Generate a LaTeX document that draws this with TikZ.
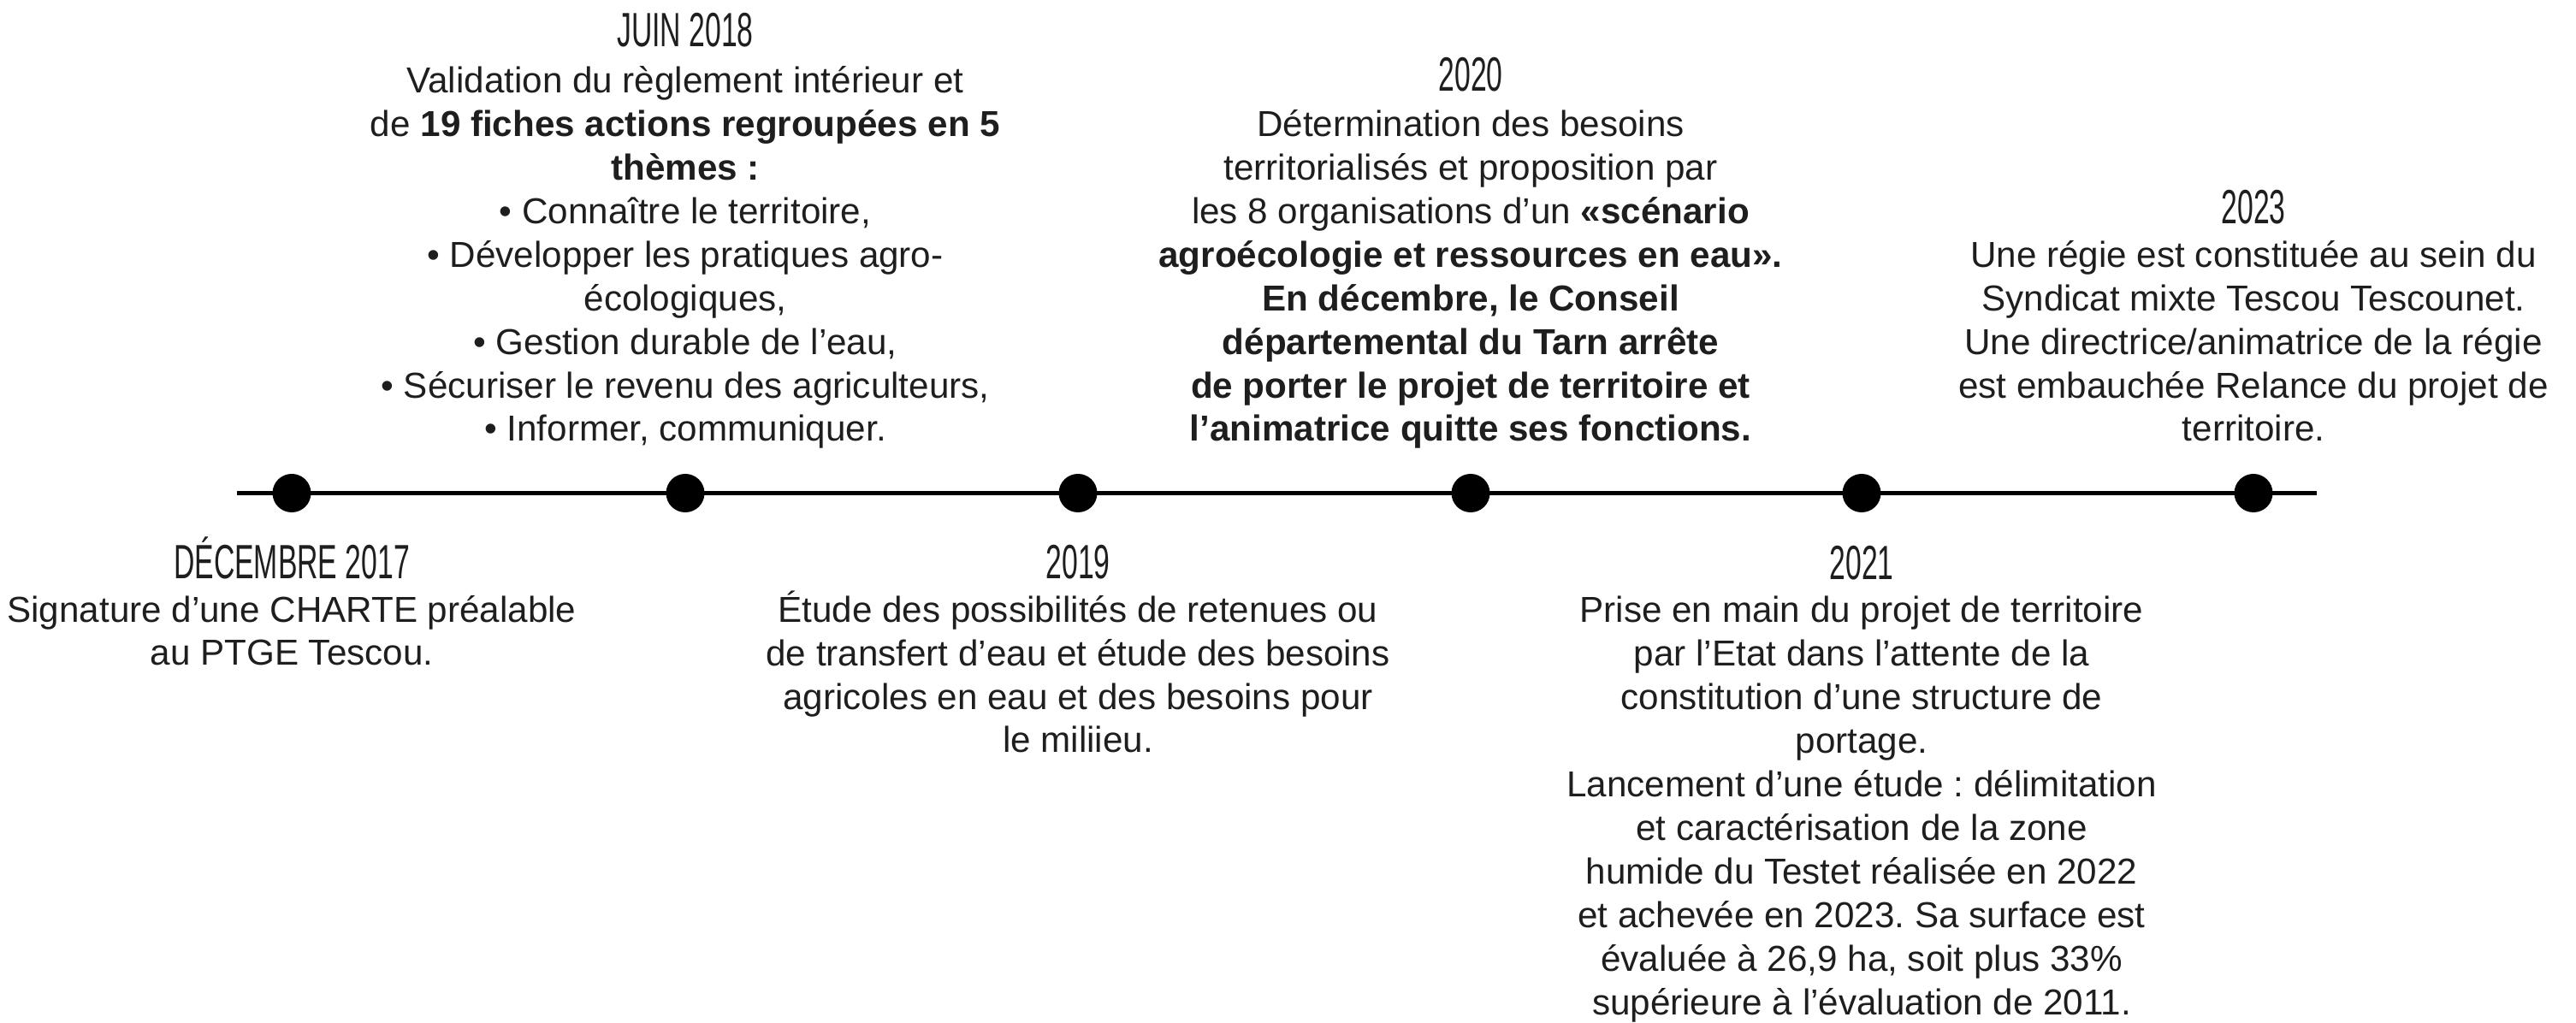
\documentclass[tikz,border=0pt]{standalone}
\usepackage{fontspec}
\setmainfont{Liberation Sans}
\newfontfamily\yearfont[FakeStretch=0.6]{Liberation Sans}
\usepackage{tikz}
\definecolor{tink}{HTML}{1E1E1E}
\frenchspacing

\begin{document}
\begin{tikzpicture}[
  evdot/.style={circle, fill=black, inner sep=0pt, minimum size=4.5mm},
  evyear/.style={font=\yearfont\fontsize{16pt}{16pt}\selectfont, text=tink, inner sep=0pt, anchor=base},
  evtext/.style={font=\fontsize{12pt}{14.5pt}\selectfont, text=tink, align=center, inner sep=0pt, anchor=base}]
 \useasboundingbox (0,0) rectangle (30.11,-11.96);
 % the time axis
 \coordinate (tstart) at (2.77,-5.765);
 \coordinate (tend) at (27.08,-5.765);
 \draw[line width=1.45pt] (tstart) -- (tend);
 \foreach \i/\x in {1/3.41,2/8.01,3/12.60,4/17.19,5/21.76,6/26.34}
   \node[evdot] (d\i) at (\x,-5.765) {};
 % above the axis (base = last line)
 \node[evyear] (y2018) at (8.01,-0.55) {JUIN 2018};
 \node[evtext] (t2018) at (8.01,-5.16) {Validation du règlement intérieur et\\
  de \textbf{19 fiches actions regroupées en 5}\\
  \textbf{thèmes :}\\
  • Connaître le territoire,\\
  • Développer les pratiques agro-\\
  écologiques,\\
  • Gestion durable de l’eau,\\
  • Sécuriser le revenu des agriculteurs,\\
  • Informer, communiquer.};
 \node[evyear] (y2020) at (17.19,-1.07) {2020};
 \node[evtext] (t2020) at (17.19,-5.16) {Détermination des besoins\\
  territorialisés et proposition par\\
  les 8 organisations d’un \textbf{«scénario}\\
  \textbf{agroécologie et ressources en eau».}\\
  \textbf{En décembre, le Conseil}\\
  \textbf{départemental du Tarn arrête}\\
  \textbf{de porter le projet de territoire et}\\
  \textbf{l'animatrice quitte ses fonctions.}};
 \node[evyear] (y2023) at (26.34,-2.62) {2023};
 \node[evtext] (t2023) at (26.34,-5.16) {Une régie est constituée au sein du\\
  Syndicat mixte Tescou Tescounet.\\
  Une directrice/animatrice de la régie\\
  est embauchée Relance du projet de\\
  territoire.};
 % below the axis
 \node[evyear] (y2017) at (3.41,-6.77) {DÉCEMBRE 2017};
 \node[evtext] (t2017) at (3.41,-7.78) {Signature d’une CHARTE préalable\\
  au PTGE Tescou.};
 \node[evyear] (y2019) at (12.60,-6.77) {2019};
 \node[evtext] (t2019) at (12.60,-8.80) {Étude des possibilités de retenues ou\\
  de transfert d’eau et étude des besoins\\
  agricoles en eau et des besoins pour\\
  le miliieu.};
 \node[evyear] (y2021) at (21.76,-6.78) {2021};
 \node[evtext] (t2021) at (21.76,-11.86) {Prise en main du projet de territoire\\
  par l'Etat dans l'attente de la\\
  constitution d’une structure de\\
  portage.\\
  Lancement d’une étude : délimitation\\
  et caractérisation de la zone\\
  humide du Testet réalisée en 2022\\
  et achevée en 2023. Sa surface est\\
  évaluée à 26,9 ha, soit plus 33\%\\
  supérieure à l'évaluation de 2011.};
\end{tikzpicture}
\end{document}
